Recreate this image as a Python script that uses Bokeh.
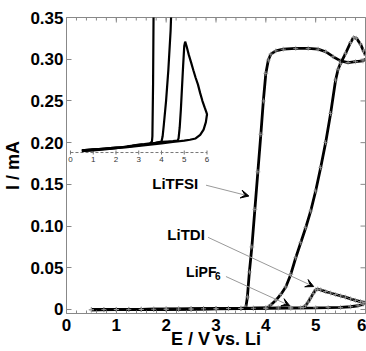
from bokeh.plotting import figure
from bokeh.models import Range1d, FixedTicker, Arrow, VeeHead
from bokeh.core.properties import value
from bokeh.embed import file_html
from bokeh.resources import INLINE

# ---- data (E / V vs. Li, I / mA) ----
tfsi_E = [0.5, 0.75, 1.0, 1.25, 1.5, 1.75, 2.0, 2.25, 2.5, 2.75, 3.0, 3.25, 3.5, 3.58, 3.6, 3.63, 3.67,
          3.72, 3.78, 3.84, 3.9, 3.95, 4.0, 4.05, 4.1, 4.2, 4.35, 4.6, 4.85, 5.05, 5.2, 5.35, 5.5, 5.65,
          5.8, 5.95, 6.0]
tfsi_I = [-0.0002, -0.0001, 0.0, 0.0001, 0.0002, 0.0003, 0.0004, 0.0005, 0.0007, 0.0009, 0.0011, 0.0012,
          0.0014, 0.0018, 0.003, 0.015, 0.045, 0.075, 0.12, 0.165, 0.21, 0.25, 0.283, 0.299, 0.306, 0.310,
          0.312, 0.313, 0.313, 0.312, 0.309, 0.303, 0.298, 0.296, 0.297, 0.298, 0.300]

tdi_E = [0.5, 0.75, 1.0, 1.25, 1.5, 1.75, 2.0, 2.25, 2.5, 2.75, 3.0, 3.25, 3.5, 3.75, 4.0, 4.05, 4.1, 4.2,
         4.3, 4.4, 4.5, 4.6, 4.7, 4.8, 4.9, 5.0, 5.1, 5.2, 5.3, 5.4, 5.45, 5.5, 5.6, 5.7, 5.76, 5.82, 5.9,
         5.96, 6.0]
tdi_I = [-0.0003, -0.0002, -0.0001, 0.0, 0.0001, 0.0002, 0.0003, 0.0005, 0.0006, 0.0008, 0.001, 0.0011,
         0.0013, 0.0015, 0.0018, 0.003, 0.0055, 0.011, 0.018, 0.027, 0.042, 0.062, 0.08, 0.098, 0.118,
         0.142, 0.17, 0.2, 0.235, 0.275, 0.288, 0.295, 0.307, 0.32, 0.326, 0.325, 0.318, 0.31, 0.305]

pf6_E = [0.5, 0.75, 1.0, 1.25, 1.5, 1.75, 2.0, 2.25, 2.5, 2.75, 3.0, 3.25, 3.5, 3.75, 4.0, 4.25, 4.5, 4.7,
         4.75, 4.8, 4.85, 4.9, 4.95, 5.0, 5.04, 5.1, 5.2, 5.3, 5.4, 5.5, 5.6, 5.7, 5.8, 5.9, 5.97, 6.0,
         5.95, 5.85, 5.7, 5.5, 5.25, 5.0, 4.5, 4.0, 3.5, 3.0, 2.5, 2.0, 1.5, 1.0, 0.5]
pf6_I = [-0.0002, -0.0001, 0.0, 0.0001, 0.0002, 0.0003, 0.0004, 0.0005, 0.0006, 0.0008, 0.001, 0.0011,
         0.0013, 0.0015, 0.0017, 0.0018, 0.0019, 0.002, 0.0025, 0.005, 0.009, 0.014, 0.019, 0.0235, 0.0245,
         0.0235, 0.0215, 0.0198, 0.018, 0.0163, 0.0148, 0.0128, 0.011, 0.0095, 0.0085, 0.008, 0.0062,
         0.0045, 0.0033, 0.0025, 0.0022, 0.002, 0.0017, 0.0014, 0.0011, 0.0008, 0.0005, 0.0003, 0.0,
         -0.0002, -0.0004]

x_ticks = [0, 1, 2, 3, 4, 5, 6]
y_ticks = [0, 0.05, 0.1, 0.15, 0.2, 0.25, 0.3, 0.35]
y_labels = ["0", "0.05", "0.10", "0.15", "0.20", "0.25", "0.30", "0.35"]
inset_ticks = [0, 1, 2, 3, 4, 5, 6]

# annotation labels and arrows (data coordinates)
label_x = [2.18, 2.4]
label_y = [0.151, 0.090]
label_text = ["LiTFSI", "LiTDI"]
pf6_label = ("LiPF", "6", 2.4, 0.0455)
arrows = [  # x_start, y_start, x_end, y_end
    (2.8, 0.149, 3.66, 0.136),
    (2.84, 0.0865, 4.96, 0.0275),
    (3.2, 0.0395, 4.48, 0.0046),
]
inset_axis_y = -0.0007

X0, X1 = 0, 6
Y0, Y1 = -0.0048, 0.35
FONT = value("Liberation Sans")
TICK = "#888888"

p = figure(width=366, height=351, x_range=Range1d(X0, X1), y_range=Range1d(Y0, Y1),
           output_backend="svg", toolbar_location=None,
           min_border_left=65, min_border_right=1, min_border_top=17, min_border_bottom=38)
p.xgrid.visible = False
p.ygrid.visible = False
p.outline_line_color = TICK
p.outline_line_width = 1
p.background_fill_color = "white"
p.border_fill_color = "white"

minor_x = [i * 0.2 for i in range(31)]
p.xaxis.ticker = FixedTicker(ticks=x_ticks, minor_ticks=minor_x)
p.yaxis.ticker = FixedTicker(ticks=y_ticks)
p.yaxis.major_label_overrides = dict(zip(y_ticks, y_labels))
for ax in (p.xaxis[0], p.yaxis[0]):
    ax.axis_line_color = None
    ax.major_tick_in = 5
    ax.major_tick_out = 0
    ax.minor_tick_in = 3
    ax.minor_tick_out = 0
    ax.major_tick_line_color = TICK
    ax.minor_tick_line_color = TICK
    ax.major_label_text_font = "Liberation Sans"
    ax.major_label_text_font_style = "bold"
    ax.major_label_text_font_size = "17px"
    ax.major_label_text_color = "black"
    ax.axis_label_text_font = "Liberation Sans"
    ax.axis_label_text_font_style = "bold"
    ax.axis_label_text_font_size = "18px"
    ax.axis_label_text_color = "black"
p.yaxis.minor_tick_line_color = None
p.xaxis.axis_label = "E / V vs. Li"
p.yaxis.axis_label = "I / mA"
p.xaxis.major_label_standoff = 5
p.xaxis.axis_label_standoff = -5
p.yaxis.major_label_standoff = 3
p.yaxis.axis_label_standoff = 4

# inward ticks on top and right frame edges (half of each dash is clipped by the frame)
p.scatter(x_ticks, [Y1] * len(x_ticks), marker="dash", angle=1.5708, size=10, line_color=TICK)
p.scatter(minor_x, [Y1] * len(minor_x), marker="dash", angle=1.5708, size=6, line_color=TICK)
p.scatter([X1] * len(y_ticks), y_ticks, marker="dash", size=10, line_color=TICK)

# ---- main curves ----
for E, I in ((tfsi_E, tfsi_I), (tdi_E, tdi_I), (pf6_E, pf6_I)):
    p.line(E, I, line_color="black", line_width=2.8)
    p.scatter(E, I, marker="cross", size=5, line_color="#a0a0a0", line_width=0.8)

# ---- inset (same data, magnified current scale) ----
p.extra_x_ranges = {"ix": Range1d(-0.175, 12.965)}
p.extra_y_ranges = {"iy": Range1d(-0.0373, 0.0300)}
p.line([inset_ticks[0], inset_ticks[-1]], [inset_axis_y, inset_axis_y], x_range_name="ix",
       y_range_name="iy", line_color="#777777", line_width=1, line_dash="3 2")
p.scatter(inset_ticks, [inset_axis_y] * len(inset_ticks), x_range_name="ix", y_range_name="iy",
          marker="dash", angle=1.5708, size=4, line_color="#777777")
p.text(inset_ticks, [inset_axis_y] * len(inset_ticks), text=[str(t) for t in inset_ticks],
       x_range_name="ix", y_range_name="iy", y_offset=7, text_font=FONT, text_font_size="8px",
       text_align="center", text_baseline="middle", text_color="#333333")
for E, I in ((tfsi_E, tfsi_I), (tdi_E, tdi_I), (pf6_E, pf6_I)):
    p.line(E, I, x_range_name="ix", y_range_name="iy", line_color="black", line_width=2.2)

# ---- annotations ----
for xs, ys, xe, ye in arrows:
    p.add_layout(Arrow(end=VeeHead(size=8, fill_color="black", line_color="black", line_width=1),
                       x_start=xs, y_start=ys, x_end=xe, y_end=ye,
                       line_color="#999999", line_width=1))
p.text(label_x, label_y, text=label_text, text_font=FONT, text_font_style="bold",
       text_font_size="15px", text_align="center", text_baseline="middle", text_color="black")
p.text([pf6_label[2]], [pf6_label[3]], text=[pf6_label[0]], text_font=FONT, text_font_style="bold",
       text_font_size="14px", text_align="left", text_baseline="middle", text_color="black")
p.text([pf6_label[2]], [pf6_label[3]], text=[pf6_label[1]], x_offset=29, y_offset=4,
       text_font=FONT, text_font_style="bold", text_font_size="10px",
       text_align="left", text_baseline="middle", text_color="black")

open("out.html", "w").write(file_html(p, INLINE))
